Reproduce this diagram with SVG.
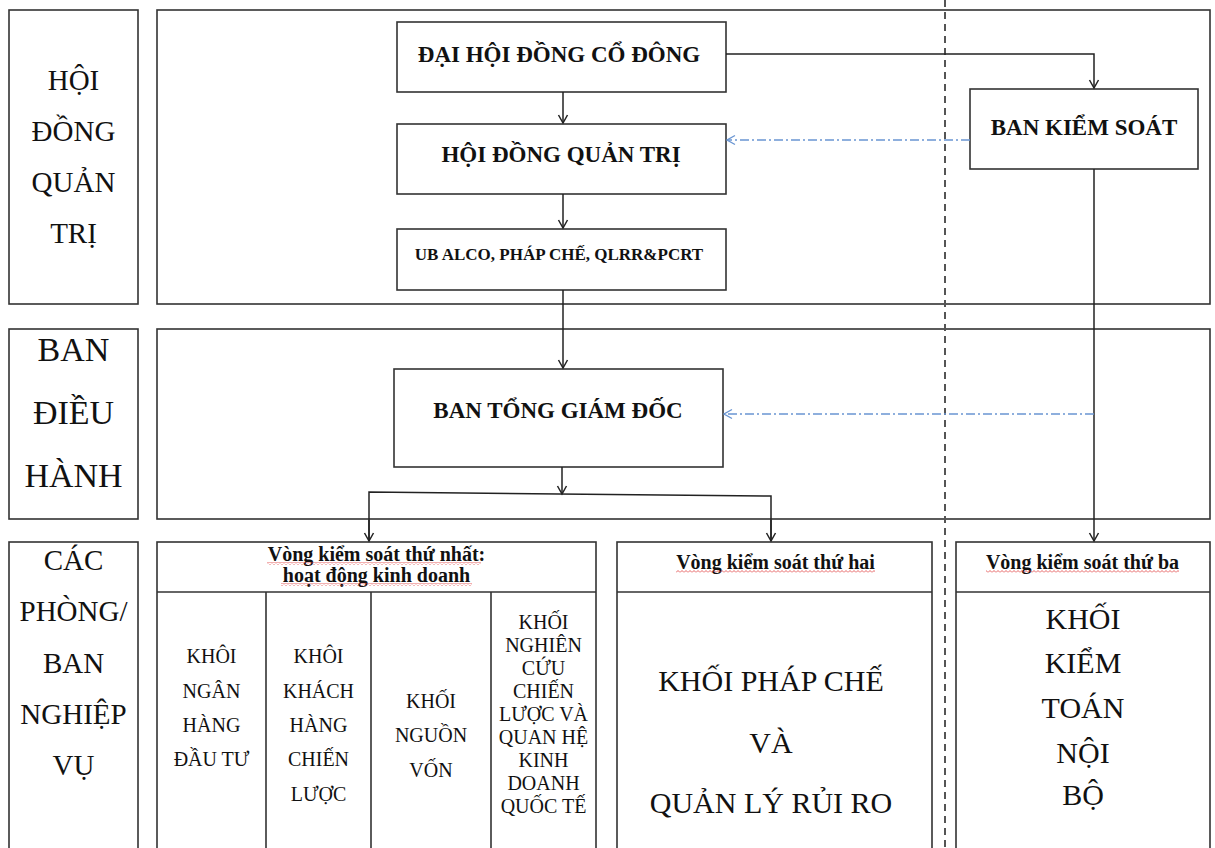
<svg xmlns="http://www.w3.org/2000/svg" width="1215" height="848" viewBox="0 0 1215 848" font-family="'Liberation Serif', 'DejaVu Serif', serif">
<style>
.box{fill:#fff;stroke:#333;stroke-width:1.6}
.frame{fill:none;stroke:#333;stroke-width:1.6}
.ln{fill:none;stroke:#222;stroke-width:1.5}
.blue{fill:none;stroke:#6a95d2;stroke-width:1.4;stroke-dasharray:9 3 2 3}
.vdash{fill:none;stroke:#555;stroke-width:2;stroke-dasharray:7 5}
.tx{font-family:'Liberation Serif','DejaVu Serif',serif;fill:#111;text-anchor:middle}
.side{font-size:29px}
.side2{font-size:34px}
.b{font-weight:bold}
.t23{font-size:23px}
.t17{font-size:17px}
.hdr{font-size:20px;font-weight:bold}
.col{font-size:20px}
.big{font-size:30px}
.sq{fill:url(#squiggle)}
</style>
<defs>
<marker id="arr" viewBox="-10 -6 12 12" refX="0" refY="0" markerWidth="12" markerHeight="12" markerUnits="userSpaceOnUse" orient="auto">
<path d="M-8,-4.5 L0,0 L-8,4.5" fill="none" stroke="#222" stroke-width="1.5"/>
</marker>
<marker id="arrb" viewBox="-10 -6 12 12" refX="0" refY="0" markerWidth="12" markerHeight="12" markerUnits="userSpaceOnUse" orient="auto">
<path d="M-8,-4.5 L0,0 L-8,4.5" fill="none" stroke="#6a95d2" stroke-width="1.4"/>
</marker>
<pattern id="squiggle" x="0" y="0" width="4" height="3" patternUnits="userSpaceOnUse">
<path d="M0,2.5 L2,0.5 L4,2.5" fill="none" stroke="#e03a3a" stroke-width="0.8"/>
</pattern>
</defs>

<g id="row-frames">
<rect class="frame" x="157" y="10" width="1053" height="294"/>
<rect class="frame" x="157" y="329" width="1053" height="190"/>
</g>

<g id="side-hdqt" class="tx">
<rect class="box" x="9" y="10" width="129" height="294"/>
<text class="side" x="73.5" y="90">HỘI</text>
<text class="side" x="73.5" y="141">ĐỒNG</text>
<text class="side" x="73.5" y="192">QUẢN</text>
<text class="side" x="73.5" y="243">TRỊ</text>
</g>

<g id="side-bdh" class="tx">
<rect class="box" x="9" y="329" width="129" height="190"/>
<text class="side2" x="73.5" y="361">BAN</text>
<text class="side2" x="73.5" y="424">ĐIỀU</text>
<text class="side2" x="73.5" y="487">HÀNH</text>
</g>

<g id="side-cpb" class="tx">
<rect class="box" x="9" y="542" width="129" height="320"/>
<text class="side" x="73.5" y="570">CÁC</text>
<text class="side" x="73.5" y="621">PHÒNG/</text>
<text class="side" x="73.5" y="673">BAN</text>
<text class="side" x="73.5" y="724">NGHIỆP</text>
<text class="side" x="73.5" y="775">VỤ</text>
</g>

<line class="vdash" x1="945" y1="0" x2="945" y2="848"/>

<g id="dhdcd" class="tx">
<rect class="box" x="397" y="22" width="329" height="70"/>
<text class="b t23" x="559" y="62">ĐẠI HỘI ĐỒNG CỔ ĐÔNG</text>
</g>

<g id="hdqt" class="tx">
<rect class="box" x="397" y="124" width="329" height="70"/>
<text class="b t23" x="561" y="162">HỘI ĐỒNG QUẢN TRỊ</text>
</g>

<g id="ub" class="tx">
<rect class="box" x="397" y="229" width="329" height="61"/>
<text class="b t17" x="559" y="260">UB ALCO, PHÁP CHẾ, QLRR&amp;PCRT</text>
</g>

<g id="bks" class="tx">
<rect class="box" x="970" y="89" width="228" height="80"/>
<text class="b t23" x="1084" y="135">BAN KIỂM SOÁT</text>
</g>

<g id="btgd" class="tx">
<rect class="box" x="394" y="369" width="329" height="98"/>
<text class="b t23" x="558" y="418">BAN TỔNG GIÁM ĐỐC</text>
</g>

<g id="ring1" class="tx">
<rect class="box" x="157" y="542" width="439" height="320"/>
<line class="frame" x1="157" y1="592" x2="596" y2="592"/>
<line class="frame" x1="266" y1="592" x2="266" y2="848"/>
<line class="frame" x1="371" y1="592" x2="371" y2="848"/>
<line class="frame" x1="491" y1="592" x2="491" y2="848"/>
<text class="hdr" x="376.5" y="561">Vòng kiểm soát thứ nhất:</text>
<text class="hdr" x="376.5" y="582">hoạt động kinh doanh</text>
<rect class="sq" x="267" y="562" width="214" height="3"/>
<rect class="sq" x="281" y="583" width="191" height="3"/>
</g>

<g id="khoi-ngan-hang-dau-tu" class="tx">
<text class="col" x="211.5" y="663">KHÔI</text>
<text class="col" x="211.5" y="698">NGÂN</text>
<text class="col" x="211.5" y="732">HÀNG</text>
<text class="col" x="211.5" y="766">ĐẦU TƯ</text>
</g>

<g id="khoi-khach-hang" class="tx">
<text class="col" x="318.5" y="663">KHÔI</text>
<text class="col" x="318.5" y="698">KHÁCH</text>
<text class="col" x="318.5" y="732">HÀNG</text>
<text class="col" x="318.5" y="766">CHIẾN</text>
<text class="col" x="318.5" y="801">LƯỢC</text>
</g>

<g id="khoi-nguon-von" class="tx">
<text class="col" x="431" y="708">KHỐI</text>
<text class="col" x="431" y="742">NGUỒN</text>
<text class="col" x="431" y="777">VỐN</text>
</g>

<g id="khoi-nghien-cuu" class="tx">
<text class="col" x="543.5" y="629">KHỐI</text>
<text class="col" x="543.5" y="652">NGHIÊN</text>
<text class="col" x="543.5" y="675">CỨU</text>
<text class="col" x="543.5" y="698">CHIẾN</text>
<text class="col" x="543.5" y="721">LƯỢC VÀ</text>
<text class="col" x="543.5" y="744">QUAN HỆ</text>
<text class="col" x="543.5" y="767">KINH</text>
<text class="col" x="543.5" y="790">DOANH</text>
<text class="col" x="543.5" y="813">QUỐC TẾ</text>
</g>

<g id="ring2" class="tx">
<rect class="box" x="617" y="542" width="315" height="320"/>
<line class="frame" x1="617" y1="592" x2="932" y2="592"/>
<text class="hdr" x="775.5" y="569">Vòng kiểm soát thứ hai</text>
<rect class="sq" x="676" y="570" width="199" height="3"/>
<text class="big" x="771" y="691">KHỐI PHÁP CHẾ</text>
<text class="big" x="771" y="753">VÀ</text>
<text class="big" x="771" y="813">QUẢN LÝ RỦI RO</text>
</g>

<g id="ring3" class="tx">
<rect class="box" x="956" y="542" width="254" height="320"/>
<line class="frame" x1="956" y1="592" x2="1210" y2="592"/>
<text class="hdr" x="1082.5" y="569">Vòng kiểm soát thứ ba</text>
<rect class="sq" x="986" y="570" width="193" height="3"/>
<text class="big" x="1083" y="629">KHỐI</text>
<text class="big" x="1083" y="673">KIỂM</text>
<text class="big" x="1083" y="718">TOÁN</text>
<text class="big" x="1083" y="763">NỘI</text>
<text class="big" x="1083" y="805">BỘ</text>
</g>

<g id="connectors">
<path class="ln" d="M563,92 L563,123" marker-end="url(#arr)"/>
<path class="ln" d="M563,194 L563,228" marker-end="url(#arr)"/>
<path class="ln" d="M563,290 L563,368" marker-end="url(#arr)"/>
<path class="ln" d="M726,54 L1094,54 L1094,88" marker-end="url(#arr)"/>
<path class="blue" d="M970,140 L727,140" marker-end="url(#arrb)"/>
<path class="ln" d="M1094,169 L1094,541" marker-end="url(#arr)"/>
<path class="blue" d="M1094,414 L724,414" marker-end="url(#arrb)"/>
<path class="ln" d="M562,467 L562,494" marker-end="url(#arr)"/>
<path class="ln" d="M369,541 L369,492 L771,496 L771,541"/>
<path class="ln" d="M369,520 L369,541" marker-end="url(#arr)"/>
<path class="ln" d="M771,520 L771,541" marker-end="url(#arr)"/>
</g>
</svg>
